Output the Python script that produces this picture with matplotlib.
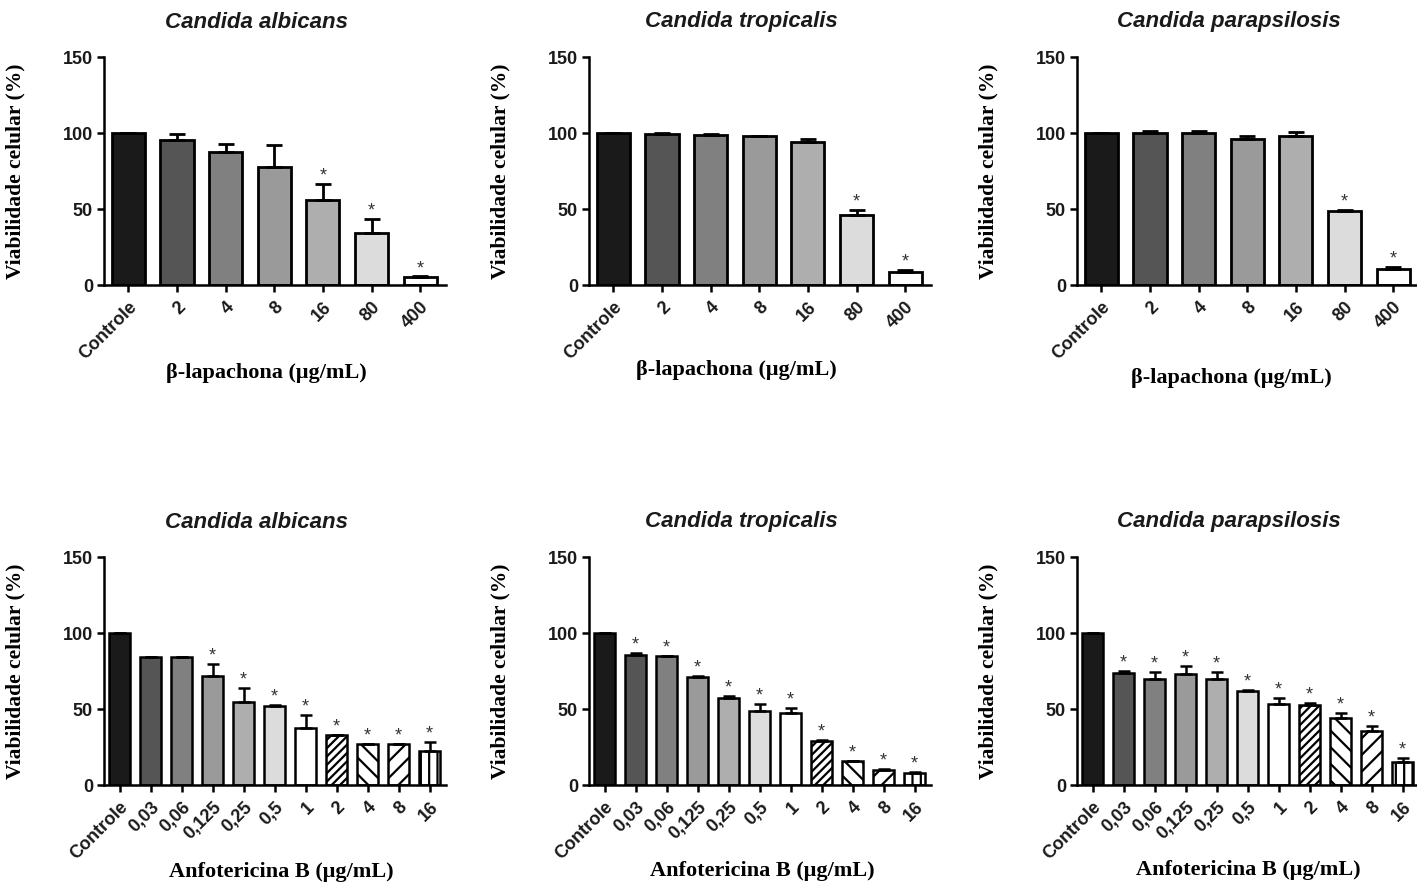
import numpy as np
import matplotlib
matplotlib.use("Agg")
import matplotlib.pyplot as plt

# ---- data ----
cats_lap = ["Controle", "2", "4", "8", "16", "80", "400"]
cats_amb = ["Controle", "0,03", "0,06", "0,125", "0,25", "0,5", "1", "2", "4", "8", "16"]

alb_lap = [100, 95.1, 87.4, 77.5, 56.2, 34.5, 5.3]
alb_lap_err = [0, 4.4, 5.3, 14.3, 10.3, 9.2, 0.3]
alb_lap_sig = [0, 0, 0, 0, 1, 1, 1]

tro_lap = [100, 99.3, 98.8, 97.7, 94.0, 46.1, 8.8]
tro_lap_err = [0, 0.6, 0.3, 0.3, 2.2, 3.3, 0.9]
tro_lap_sig = [0, 0, 0, 0, 0, 1, 1]

par_lap = [100, 99.8, 100.2, 96.0, 97.7, 48.8, 10.8]
par_lap_err = [0, 1.2, 1.0, 1.7, 2.7, 0.6, 0.8]
par_lap_sig = [0, 0, 0, 0, 0, 1, 1]

alb_amb = [100, 83.9, 83.9, 71.4, 54.5, 52.3, 37.8, 32.7, 26.8, 26.8, 22.4]
alb_amb_err = [0, 0.4, 0.4, 8.5, 9.2, 0.2, 8.3, 0.3, 0.4, 0.4, 5.7]
alb_amb_sig = [0, 0, 0, 1, 1, 1, 1, 1, 1, 1, 1]

tro_amb = [100, 85.5, 84.7, 70.8, 57.0, 48.4, 47.3, 29.2, 15.6, 10.1, 8.1]
tro_amb_err = [0, 1.4, 0.4, 0.7, 1.7, 4.6, 3.5, 0.5, 0.4, 0.7, 0.5]
tro_amb_sig = [0, 1, 1, 1, 1, 1, 1, 1, 1, 1, 1]

par_amb = [100, 73.9, 70.0, 73.2, 69.5, 62.1, 53.5, 52.4, 44.3, 35.7, 15.1]
par_amb_err = [0, 1.1, 4.3, 5.1, 4.8, 0.6, 3.5, 1.5, 2.8, 2.9, 2.7]
par_amb_sig = [0, 1, 1, 1, 1, 1, 1, 1, 1, 1, 1]

# ---- styles ----
lap_colors = ["#1a1a1a", "#555555", "#808080", "#9a9a9a", "#aeaeae", "#dcdcdc", "#ffffff"]
amb_colors = ["#1a1a1a", "#555555", "#808080", "#9a9a9a", "#aeaeae", "#dcdcdc",
              "#ffffff", "#ffffff", "#ffffff", "#ffffff", "#ffffff"]
lap_hatch = [None] * 7
amb_hatch = [None] * 7 + ["////", "\\\\", "//", "||"]

plt.rcParams["hatch.linewidth"] = 1.6

fig = plt.figure(figsize=(14.17, 8.84), dpi=100)

W = 342 / 1417
H = 228 / 884
lefts = [104 / 1417, 589 / 1417, 1077 / 1417]
bottoms = [1 - 285 / 884, 1 - 785 / 884]

panels = [
    (0, 0, "Candida albicans", cats_lap, alb_lap, alb_lap_err, alb_lap_sig, lap_colors, lap_hatch,
     "β-lapachona (μg/mL)", (0.474, -0.386)),
    (0, 1, "Candida tropicalis", cats_lap, tro_lap, tro_lap_err, tro_lap_sig, lap_colors, lap_hatch,
     "β-lapachona (μg/mL)", (0.43, -0.373)),
    (0, 2, "Candida parapsilosis", cats_lap, par_lap, par_lap_err, par_lap_sig, lap_colors, lap_hatch,
     "β-lapachona (μg/mL)", (0.45, -0.408)),
    (1, 0, "Candida albicans", cats_amb, alb_amb, alb_amb_err, alb_amb_sig, amb_colors, amb_hatch,
     "Anfotericina B (μg/mL)", (0.518, -0.382)),
    (1, 1, "Candida tropicalis", cats_amb, tro_amb, tro_amb_err, tro_amb_sig, amb_colors, amb_hatch,
     "Anfotericina B (μg/mL)", (0.506, -0.377)),
    (1, 2, "Candida parapsilosis", cats_amb, par_amb, par_amb_err, par_amb_sig, amb_colors, amb_hatch,
     "Anfotericina B (μg/mL)", (0.50, -0.373)),
]

for row, col, title, cats, vals, errs, sig, colors, hatches, xlab, xlab_pos in panels:
    ax = fig.add_axes([lefts[col], bottoms[row], W, H])
    n = len(cats)
    x = np.arange(n)
    lw = 2.0 if n < 10 else 1.8
    bars = ax.bar(x, vals, width=0.68, color=colors, edgecolor="black", linewidth=lw, zorder=2)
    for b, h in zip(bars, hatches):
        if h:
            b.set_hatch(h)
    ax.errorbar(x, vals, yerr=[np.zeros(n), errs], fmt="none", ecolor="black",
                elinewidth=lw, capsize=5.5 if n < 10 else 4.5, capthick=lw, zorder=3)
    for xi, v, e, s in zip(x, vals, errs, sig):
        if s:
            ax.annotate("*", (xi, v + e), xytext=(0, 2.5), textcoords="offset points",
                        ha="center", va="baseline", fontsize=13, color="#333333",
                        family="Liberation Sans")

    ax.set_xlim(-0.5, n - 0.47)
    ax.set_ylim(0, 150)
    ax.set_yticks([0, 50, 100, 150])
    ax.set_xticks(x)
    ax.set_xticklabels(cats, rotation=45, ha="right", va="top", rotation_mode="anchor")
    for lbl in ax.get_xticklabels() + ax.get_yticklabels():
        lbl.set_family("Liberation Sans")
        lbl.set_fontweight("bold")
        lbl.set_fontsize(13)
        lbl.set_color("#1a1a1a")
    ax.spines["top"].set_visible(False)
    ax.spines["right"].set_visible(False)
    ax.spines["left"].set_linewidth(1.8)
    ax.spines["bottom"].set_linewidth(1.8)
    ax.tick_params(axis="x", direction="out", length=5, width=1.8, pad=5)
    ax.tick_params(axis="y", direction="out", length=5, width=1.8, pad=3)

    ax.set_ylabel("Viabilidade celular (%)", family="Liberation Serif", fontweight="bold",
                  fontsize=15.5)
    ax.yaxis.set_label_coords(-0.23, 0.5)
    ax.set_xlabel(xlab, family="Liberation Serif", fontweight="bold", fontsize=16, va="center")
    ax.xaxis.set_label_coords(*xlab_pos)

    ax.text(0.445, 1 + 35 / 228, title, transform=ax.transAxes, ha="center", va="center",
            family="Liberation Sans", fontweight="bold", style="italic", fontsize=16,
            color="#1a1a1a")

fig.savefig("out.png", dpi=100)
